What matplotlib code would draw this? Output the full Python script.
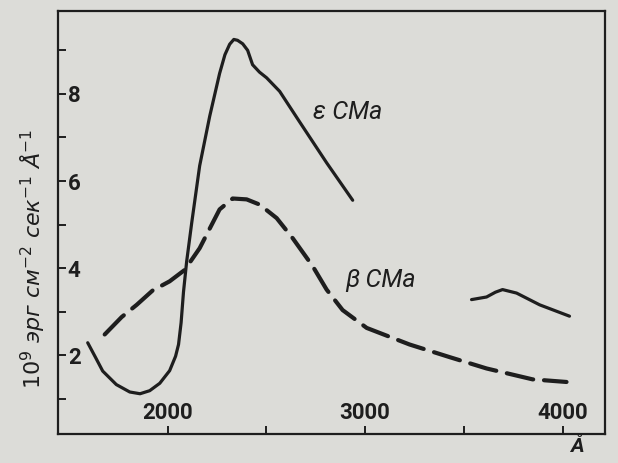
import matplotlib.pyplot as plt

# wavelength (Angstrom) and flux (10^9 erg cm^-2 s^-1 A^-1)
eps_wl = [1595, 1635, 1671, 1740, 1808, 1860, 1909, 1960, 2010, 2040, 2055,
          2068, 2080, 2096, 2122, 2162, 2213, 2263, 2290, 2314, 2335, 2354,
          2380, 2405, 2430, 2465, 2501, 2567, 2668, 2805, 2937]
eps_flux = [2.29, 1.95, 1.64, 1.33, 1.16, 1.12, 1.19, 1.36, 1.65, 1.98, 2.25,
            2.75, 3.45, 4.15, 5.05, 6.35, 7.49, 8.47, 8.90, 9.14, 9.25, 9.23,
            9.15, 9.00, 8.67, 8.50, 8.37, 8.06, 7.36, 6.42, 5.56]

eps_wl2 = [3539, 3615, 3660, 3696, 3767, 3884, 4035]
eps_flux2 = [3.28, 3.34, 3.45, 3.51, 3.43, 3.16, 2.90]

beta_wl = [1681, 1767, 1843, 1924, 2010, 2086, 2162, 2213, 2263, 2329, 2400,
           2466, 2552, 2633, 2734, 2805, 2886, 3008, 3225, 3428, 3615, 3848, 4020]
beta_flux = [2.48, 2.88, 3.16, 3.49, 3.70, 3.96, 4.46, 4.91, 5.35, 5.60, 5.58,
             5.46, 5.15, 4.69, 4.05, 3.51, 3.04, 2.63, 2.25, 1.96, 1.70, 1.45, 1.39]

x_ticks = [2000, 3000, 4000]
x_minor = [2500, 3500]
y_ticks = [2, 4, 6, 8]
y_minor = [1, 3, 5, 7, 9]

paper = '#dcdcd8'
ink = '#1e1e1e'
narrow = ['Roboto', 'DejaVu Sans']

fig = plt.figure(figsize=(6.18, 4.63), dpi=100, facecolor=paper)
ax = fig.add_axes([0.094, 0.063, 0.885, 0.913], facecolor=paper)

ax.plot(eps_wl, eps_flux, color=ink, lw=2.3, solid_capstyle='round',
        solid_joinstyle='round')
ax.plot(eps_wl2, eps_flux2, color=ink, lw=2.3, solid_capstyle='round',
        solid_joinstyle='round')
ax.plot(beta_wl, beta_flux, color=ink, lw=3.0, dashes=(6.5, 2.6),
        dash_capstyle='round')

ax.set_xlim(1445, 4215)
ax.set_ylim(0.2, 9.9)

ax.set_xticks(x_ticks)
ax.set_xticks(x_minor, minor=True)
ax.set_yticks(y_ticks)
ax.set_yticks(y_minor, minor=True)
ax.tick_params(which='both', direction='in', length=6, width=1.4, color=ink)
ax.tick_params(axis='y', pad=-7, labelsize=16, labelcolor=ink)
ax.tick_params(axis='x', pad=-7, labelsize=16, labelcolor=ink)
for lab in ax.get_yticklabels():
    lab.set_ha('left')
    lab.set_family(narrow)
    lab.set_weight('bold')
for lab in ax.get_xticklabels():
    lab.set_va('bottom')
    lab.set_family(narrow)
    lab.set_weight('bold')

for sp in ax.spines.values():
    sp.set_linewidth(1.6)
    sp.set_color(ink)

ax.text(2910, 7.58, 'ε CMa', fontsize=18, color=ink, ha='center', va='center',
        family=narrow, style='italic')
ax.text(3080, 3.72, 'β CMa', fontsize=18, color=ink, ha='center', va='center',
        family=narrow, style='italic')

ax.annotate('Å', xy=(4070, 0), xycoords=('data', 'axes fraction'),
            xytext=(0, -2), textcoords='offset points', ha='center', va='top',
            fontsize=15, color=ink, family=narrow, style='italic',
            weight='bold', annotation_clip=False)

fig.text(0.052, 0.44, r'$10^9$ эрг см$^{-2}$ сек$^{-1}$ Å$^{-1}$',
         rotation=90, ha='center', va='center', fontsize=16, color=ink,
         style='italic')

fig.savefig('out.png', dpi=100, facecolor=paper)
